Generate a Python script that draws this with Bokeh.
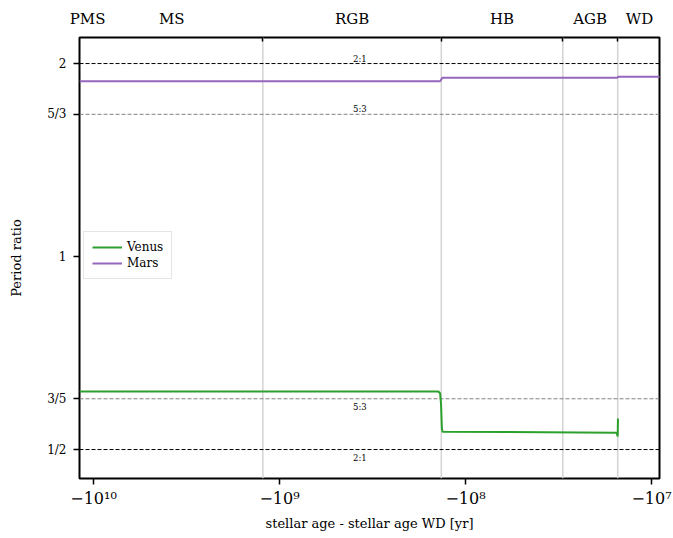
import numpy as np
from bokeh.plotting import figure
from bokeh.models import (FixedTicker, LogAxis, Span, CustomJSTickFormatter, Label)
from bokeh.embed import file_html
from bokeh.resources import INLINE

# ---- data (x = stellar age - stellar age WD [yr], negative) ----
venus_t = [-1.19e10, -1.40e8, -1.37e8, -1.355e8, -1.34e8, -1.33e8, -1.54e7, -1.52e7, -1.515e7]
venus_p = [0.616, 0.616, 0.612, 0.590, 0.540, 0.5332, 0.531, 0.524, 0.559]
mars_t = [-1.19e10, -1.37e8, -1.33e8, -1.53e7, -1.51e7, -9.0e6]
mars_p = [1.877, 1.877, 1.901, 1.901, 1.907, 1.907]

phase_bounds = [-1.23e9, -1.35e8, -3.0e7, -1.52e7]
phase_names = ["PMS", "MS", "RGB", "HB", "AGB", "WD"]
phase_label_t = [-1.077e10, -3.80e9, -4.07e8, -6.36e7, -2.14e7, -1.16e7]

res_values = [2.0, 5/3, 3/5, 1/2]
res_names = ["2:1", "5:3", "5:3", "2:1"]
res_colors = ["black", "gray", "gray", "black"]

ytick_vals = [0.5, 0.6, 1.0, 5/3, 2.0]
ytick_labels = ["1/2", "3/5", "1", "5/3", "2"]
xtick_vals = [-1e10, -1e9, -1e8, -1e7]

x_range = (1.19e10, 9.06e6)
y_range = (0.4506, 2.196)

FONT = "DejaVu Serif"

p = figure(width=673, height=538, x_axis_type="log", y_axis_type="log",
           x_range=x_range, y_range=y_range,
           output_backend="svg", toolbar_location=None,
           min_border_left=79, min_border_right=14, min_border_top=37, min_border_bottom=60)
p.xgrid.visible = False
p.ygrid.visible = False
p.outline_line_color = "black"
p.outline_line_width = 2
p.background_fill_color = "white"

# phase boundaries
for b in phase_bounds:
    p.add_layout(Span(location=-b, dimension="height", line_color="#d3d3d3",
                      line_width=1.5, level="underlay"))

# resonance lines
for v, c in zip(res_values, res_colors):
    p.add_layout(Span(location=v, dimension="width", line_color=c, line_width=1,
                      line_dash="4 2", level="underlay"))
label_x = 3.7e8
for i, (v, n) in enumerate(zip(res_values, res_names)):
    above = v > 1
    p.add_layout(Label(x=label_x, y=v, text=n, text_font=FONT, text_font_size="8.5px",
                       text_align="center",
                       text_baseline="bottom" if above else "top",
                       y_offset=0 if above else -3, text_color="black"))

p.line([-t for t in venus_t], venus_p, line_color="#2ca02c", line_width=2, legend_label="Venus")
p.line([-t for t in mars_t], mars_p, line_color="#9467bd", line_width=2, legend_label="Mars")

# bottom axis
xa = p.xaxis[0]
xa.ticker = FixedTicker(ticks=[-t for t in xtick_vals], minor_ticks=[])
xa.formatter = CustomJSTickFormatter(code="""
const sup = {"0":"\u2070","1":"\u00b9","2":"\u00b2","3":"\u00b3","4":"\u2074","5":"\u2075","6":"\u2076","7":"\u2077","8":"\u2078","9":"\u2079"};
const e = String(Math.round(Math.log10(tick)));
return "\u221210" + e.split("").map(c => sup[c]).join("");
""")
xa.axis_label = "stellar age - stellar age WD [yr]"
xa.axis_label_text_font = FONT
xa.axis_label_text_font_style = "normal"
xa.axis_label_text_font_size = "13px"
xa.axis_label_text_color = "black"
xa.major_label_text_font = FONT
xa.major_label_text_font_size = "16px"
xa.major_label_text_color = "black"
xa.axis_line_color = None
xa.major_tick_in = 0
xa.major_tick_out = 6
xa.major_tick_line_width = 1.5
xa.major_label_standoff = 4
xa.axis_label_standoff = 5

ya = p.yaxis[0]
ya.ticker = FixedTicker(ticks=ytick_vals, minor_ticks=[])
ya.formatter = CustomJSTickFormatter(args=dict(vals=ytick_vals, labs=ytick_labels), code="""
for (let i = 0; i < vals.length; i++) { if (Math.abs(vals[i] - tick) < 1e-6) return labs[i]; }
return "";
""")
ya.axis_label = "Period ratio"
ya.axis_label_text_font = FONT
ya.axis_label_text_font_style = "normal"
ya.axis_label_text_font_size = "13px"
ya.axis_label_text_color = "black"
ya.major_label_text_font = FONT
ya.major_label_text_font_size = "12px"
ya.major_label_text_color = "black"
ya.axis_line_color = None
ya.major_tick_in = 0
ya.major_tick_out = 6
ya.major_tick_line_width = 1.5
ya.major_label_standoff = 7
ya.axis_label_standoff = 20

# top phase axis
top = LogAxis(ticker=FixedTicker(ticks=[-t for t in phase_label_t],
                                 minor_ticks=[-b for b in phase_bounds]))
top.formatter = CustomJSTickFormatter(args=dict(vals=[-t for t in phase_label_t], labs=phase_names), code="""
for (let i = 0; i < vals.length; i++) { if (Math.abs(vals[i] - tick) / vals[i] < 1e-6) return labs[i]; }
return "";
""")
top.major_tick_line_color = None
top.minor_tick_in = 4
top.minor_tick_out = 0
top.minor_tick_line_width = 1.5
top.minor_tick_line_color = "black"
top.axis_line_color = None
top.major_label_text_font = FONT
top.major_label_text_font_size = "15px"
top.major_label_text_color = "black"
top.major_label_standoff = 4
p.add_layout(top, "above")

lg = p.legend[0]
lg.location = (4, 199)
lg.label_text_font = FONT
lg.label_text_font_size = "12px"
lg.label_text_color = "black"
lg.glyph_width = 30
lg.glyph_height = 12
lg.label_height = 12
lg.spacing = 2
lg.padding = 8
lg.margin = 0
lg.border_line_color = "#cccccc"
lg.border_line_width = 1.5
lg.background_fill_alpha = 0.8

open("out.html", "w").write(file_html(p, INLINE))
